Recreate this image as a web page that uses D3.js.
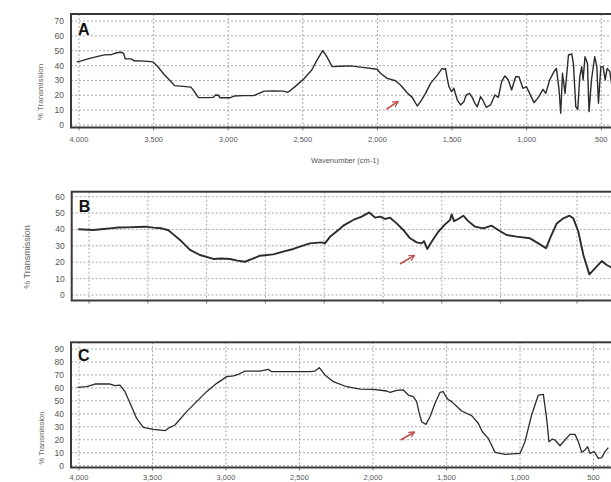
<!DOCTYPE html>
<html>
<head>
<meta charset="utf-8">
<script src="https://cdnjs.cloudflare.com/ajax/libs/d3/7.8.5/d3.min.js"></script>
<style>
  body { margin: 0; background: #fff; }
  svg { display: block; font-family: "Liberation Sans", Arial, sans-serif; }
</style>
</head>
<body>
<svg id="chart" width="611" height="482"></svg>
<script>
// ---- data: [wavenumber cm-1, % transmission] ----
var specA = [[4015,42.5],[3990,43],[3940,44.5],[3880,46],[3830,47.2],[3780,47.5],[3740,48.8],[3715,49],[3700,48],
  [3690,44.5],[3650,44.5],[3630,43.2],[3560,43],[3505,42.5],[3470,39],[3430,34],[3390,30],[3360,26.5],[3300,26],
  [3250,25.5],[3230,23],[3200,18.4],[3140,18.4],[3100,18.6],[3085,20.2],[3065,20],[3055,18.3],[2990,18.3],[2960,19.5],
  [2900,19.8],[2830,19.8],[2790,21.5],[2760,22.8],[2700,23],[2630,22.8],[2600,22],[2580,23.5],[2550,26],[2494,31],
  [2440,37],[2405,43.7],[2367,50],[2345,47],[2327,43.7],[2304,39.3],[2250,39.5],[2180,39.8],[2100,38.8],[2002,37.5],
  [1980,34.8],[1935,31.4],[1879,29.8],[1846,26.9],[1801,21.7],[1767,18.6],[1733,12.8],[1711,15.7],[1678,21.3],
  [1644,28],[1599,33.6],[1566,38.1],[1550,37.5],[1544,38],[1530,30],[1521,25.8],[1503,22.4],[1488,24.7],[1465,16.8],
  [1443,13.5],[1421,15.7],[1405,20.2],[1383,21.3],[1365,18.6],[1347,14.6],[1331,12.3],[1309,19.1],[1294,16.8],
  [1271,11.9],[1242,13.5],[1213,20.2],[1190,18.6],[1168,29.2],[1146,33],[1123,30.3],[1101,23.6],[1074,32.5],
  [1052,32.5],[1025,24.7],[1002,25.8],[980,21.3],[951,15],[922,18.6],[891,24],[872,21.3],[846,30.3],[817,35.9],
  [801,38.1],[783,23.6],[772,7.9],[760,34.8],[743,21.3],[720,47.1],[698,47.8],[687,41.5],[671,12.3],[658,10.5],
  [644,32.5],[631,39.3],[622,30.3],[609,46],[593,41.5],[582,9],[566,30.3],[544,46],[530,39.3],[519,14.6],[503,39.3],
  [488,39.3],[474,30.3],[461,38.1],[443,35.9],[430,27],[415,30]];

var specB = [[4073,40.1],[3971,39.7],[3900,40.3],[3857,40.7],[3800,41.2],[3744,41.3],[3619,41.7],[3562,41.1],
  [3506,40.7],[3460,39.5],[3426,37],[3381,33.6],[3313,27.5],[3245,24.4],[3154,22],[3100,22.3],[3041,22],[2990,21],
  [2939,20.3],[2890,22],[2837,24],[2746,24.8],[2680,26.5],[2610,28.1],[2550,30],[2497,31.5],[2417,32.1],[2395,31.5],
  [2361,35.5],[2327,38],[2293,40.5],[2270,42.3],[2202,45.8],[2145,47.8],[2093,50.4],[2054,47.2],[2020,47.8],
  [1986,46.4],[1952,47.2],[1907,43.7],[1862,39.7],[1816,34.6],[1771,32.1],[1737,31.5],[1721,32.9],[1699,28.1],
  [1669,32.5],[1624,38.6],[1578,43.1],[1544,45.8],[1533,49.2],[1517,45.1],[1488,46.4],[1454,48.4],[1420,45.1],
  [1374,41.7],[1318,40.7],[1261,42.3],[1216,39.7],[1159,36.6],[1091,35.6],[1000,34.6],[943,31.5],[891,28.5],
  [864,34.6],[818,43.7],[773,46.8],[732,48.4],[705,46.8],[671,38.6],[637,24.4],[596,12.6],[558,16.3],[512,20.7],
  [478,18.3],[430,16]];

var specC = [[4011,60.4],[3948,61],[3891,63],[3789,63],[3755,61.7],[3721,62.2],[3687,57.1],[3642,45.5],[3608,36.5],
  [3562,29.6],[3494,28],[3415,27],[3381,29.6],[3347,31.4],[3268,41.7],[3200,49.4],[3132,57.1],[3063,63.5],[2995,68.7],
  [2950,69.2],[2916,70.5],[2871,73],[2769,73],[2712,74.3],[2689,72.5],[2610,72.5],[2429,72.5],[2395,73],[2365,75.6],
  [2327,70],[2270,64.8],[2179,60.9],[2088,59.1],[1998,58.9],[1907,57.6],[1884,56.6],[1839,58.1],[1794,58.4],
  [1760,54.5],[1726,53.2],[1703,49.4],[1685,40.4],[1669,33.9],[1640,31.9],[1612,37.8],[1578,48.1],[1544,56.6],
  [1522,57.1],[1510,54.5],[1488,51],[1465,49.4],[1397,42.2],[1329,38.6],[1284,32.7],[1256,26.2],[1216,21.1],
  [1170,10.3],[1102,8.7],[1000,9.5],[966,18.5],[921,39.1],[875,54.5],[841,55],[819,36.5],[803,18.5],[780,20.6],
  [762,19.8],[728,15.4],[694,19.8],[660,24.2],[626,24.2],[603,18.5],[580,10.3],[558,12.1],[540,14.7],[524,9.5],
  [495,10.8],[467,5.7],[444,6.2],[422,10.8],[399,13.9]];

// tick values
var xTicksAC = [4000, 3500, 3000, 2500, 2000, 1500, 1000, 500];
var xTicksB = [4000, 3600, 3200, 2800, 2400, 2000, 1600, 1200, 680];
var yTicksA = [0, 10, 20, 30, 40, 50, 60, 70];
var yTicksB = [0, 10, 20, 30, 40, 50, 60];
var yTicksC = [0, 10, 20, 30, 40, 50, 60, 70, 80, 90];

// red arrows: [tail, head] as [wavenumber, %T]
var arrowA = [[1940, 10.6], [1864, 15.7]];
var arrowB = [[1884, 18.9], [1789, 24]];
var arrowC = [[1812, 19.8], [1721, 25.8]];

var svg = d3.select("#chart");
var fmt = d3.format(",");

svg.append("defs").append("marker")
    .attr("id", "head")
    .attr("viewBox", "0 -5 10 10")
    .attr("refX", 8)
    .attr("refY", 0)
    .attr("markerWidth", 4)
    .attr("markerHeight", 4)
    .attr("orient", "auto")
  .append("path")
    .attr("d", "M0,-4.5L9,0L0,4.5")
    .attr("fill", "none")
    .attr("stroke", "#c0504d")
    .attr("stroke-width", 2);

function drawPanel(p) {
    var x = d3.scaleLinear().domain(p.xDom).range(p.xRange);
    var y = d3.scaleLinear().domain([0, p.yTicks[p.yTicks.length - 1]]).range(p.yRange);
    var g = svg.append("g");

    g.append("clipPath").attr("id", "clip" + p.name)
      .append("rect")
        .attr("x", p.left).attr("y", p.top)
        .attr("width", p.right - p.left).attr("height", p.bottom - p.top);

    g.append("rect")
        .attr("x", p.left).attr("y", p.top)
        .attr("width", p.right - p.left).attr("height", p.bottom - p.top)
        .attr("fill", "#fff");

    // grid
    g.selectAll(".hg").data(p.yTicks).enter().append("line")
        .attr("x1", p.left).attr("x2", p.right)
        .attr("y1", function(d) { return y(d); })
        .attr("y2", function(d) { return y(d); })
        .attr("stroke", "#a8a8a8").attr("stroke-dasharray", "2,2");
    g.selectAll(".vg").data(p.xTicks).enter().append("line")
        .attr("x1", function(d) { return x(d); })
        .attr("x2", function(d) { return x(d); })
        .attr("y1", p.top).attr("y2", p.bottom)
        .attr("stroke", "#a8a8a8").attr("stroke-dasharray", "2,2");

    // small ticks under the frame
    g.selectAll(".tk").data(p.xTicks).enter().append("line")
        .attr("x1", function(d) { return x(d); })
        .attr("x2", function(d) { return x(d); })
        .attr("y1", p.bottom).attr("y2", p.bottom + 3)
        .attr("stroke", "#777");

    // spectrum
    var line = d3.line()
        .x(function(d) { return x(d[0]); })
        .y(function(d) { return y(d[1]); });
    g.append("path")
        .datum(p.data)
        .attr("clip-path", "url(#clip" + p.name + ")")
        .attr("d", line)
        .attr("fill", "none")
        .attr("stroke", "#2b2b2b")
        .attr("stroke-width", p.lw)
        .attr("stroke-linejoin", "round");

    // frame
    g.append("rect")
        .attr("x", p.left).attr("y", p.top)
        .attr("width", p.right - p.left).attr("height", p.bottom - p.top)
        .attr("fill", "none")
        .attr("stroke", "#3a3a3a")
        .attr("stroke-width", 2);

    // y tick labels
    g.selectAll(".yl").data(p.yTicks).enter().append("text")
        .attr("x", p.left - 7)
        .attr("y", function(d) { return y(d) + 3; })
        .attr("text-anchor", "end")
        .attr("font-size", 8.5)
        .attr("fill", "#555")
        .text(function(d) { return d; });

    // x tick labels
    if (p.xLabels) {
        g.selectAll(".xl").data(p.xTicks).enter().append("text")
            .attr("x", function(d) { return x(d); })
            .attr("y", p.xLabelY)
            .attr("text-anchor", "middle")
            .attr("font-size", 7.5)
            .attr("fill", "#555")
            .text(function(d) { return fmt(d); });
    }

    // axis title
    g.append("text")
        .attr("transform", "translate(" + p.titleX + "," + p.titleY + ") rotate(-90)")
        .attr("text-anchor", "middle")
        .attr("font-size", p.titleSize)
        .attr("fill", "#666")
        .text("% Transmission");

    // panel letter
    g.append("text")
        .attr("x", p.left + 7)
        .attr("y", p.letterY)
        .attr("font-size", 16)
        .attr("font-weight", "bold")
        .attr("fill", "#111")
        .text(p.name);

    // red arrow
    g.append("line")
        .attr("x1", x(p.arrow[0][0])).attr("y1", y(p.arrow[0][1]))
        .attr("x2", x(p.arrow[1][0])).attr("y2", y(p.arrow[1][1]))
        .attr("stroke", "#c0504d")
        .attr("stroke-width", 1.6)
        .attr("marker-end", "url(#head)");
}

drawPanel({name: "A", data: specA, xTicks: xTicksAC, yTicks: yTicksA,
    xDom: [4000, 500], xRange: [79, 601.3], yRange: [125, 21],
    left: 71, right: 630, top: 14, bottom: 127.5, lw: 1.4,
    xLabels: true, xLabelY: 142, titleX: 43, titleY: 92, titleSize: 8, letterY: 35, arrow: arrowA});

drawPanel({name: "B", data: specB, xTicks: xTicksB, yTicks: yTicksB,
    xDom: [4000, 1200], xRange: [89, 500.6], yRange: [295, 196.7],
    left: 71.7, right: 630, top: 191.7, bottom: 300.5, lw: 1.9,
    xLabels: false, titleX: 30, titleY: 257, titleSize: 9, letterY: 212, arrow: arrowB});

drawPanel({name: "C", data: specC, xTicks: xTicksAC, yTicks: yTicksC,
    xDom: [4000, 500], xRange: [79, 593.5], yRange: [465.7, 349],
    left: 71, right: 630, top: 342.3, bottom: 467.5, lw: 1.3,
    xLabels: true, xLabelY: 479.5, titleX: 44, titleY: 438, titleSize: 7.5, letterY: 361, arrow: arrowC});

svg.append("text")
    .attr("x", 345)
    .attr("y", 163)
    .attr("text-anchor", "middle")
    .attr("font-size", 7.5)
    .attr("fill", "#555")
    .text("Wavenumber (cm-1)");
</script>
</body>
</html>
